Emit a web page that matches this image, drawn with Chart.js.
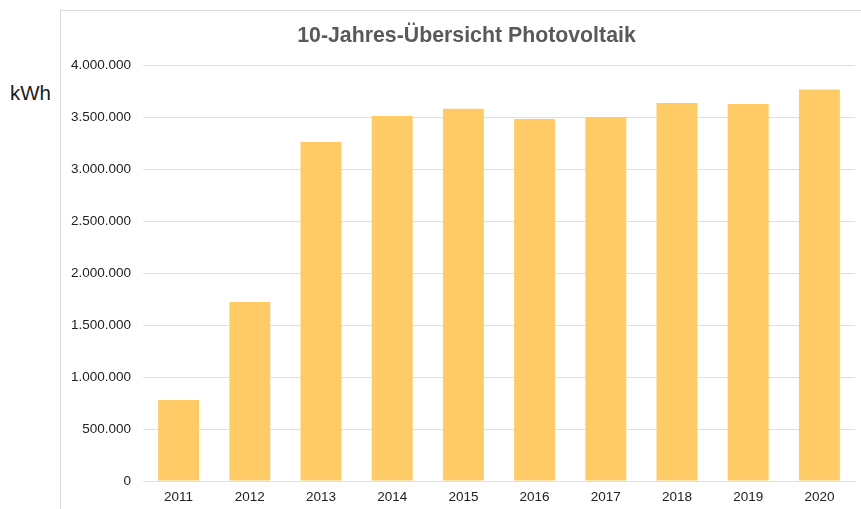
<!DOCTYPE html>
<html>
<head>
<meta charset="utf-8">
<script src="https://cdn.jsdelivr.net/npm/chart.js@4/dist/chart.umd.min.js"></script>
<style>
  html, body { margin: 0; padding: 0; background: #ffffff; }
  #wrap { position: relative; width: 861px; height: 509px; overflow: hidden; }
  #frame { position: absolute; left: 60px; top: 10px; width: 801px; height: 499px;
           border-left: 1px solid #d9d9d9; border-top: 1px solid #d9d9d9; box-sizing: border-box; }
  #unit { position: absolute; left: 10px; top: 81px; font-family: "Liberation Sans", Arial, sans-serif;
          font-size: 20.5px; color: #1a1a1a; line-height: 24px; }
  #title { position: absolute; left: 0; width: 933px; top: 22px; text-align: center;
           font-family: "Liberation Sans", Arial, sans-serif; font-weight: bold; font-size: 21.3px;
           line-height: 26px; color: #595959; white-space: nowrap; }
  canvas { position: absolute; left: 0; top: 0; }
</style>
</head>
<body>
<div id="wrap">
  <div id="frame"></div>
  <div id="unit">kWh</div>
  <canvas id="c" width="861" height="509"></canvas>
  <div id="title"></div>
</div>
<script>
const titleText = "10-Jahres-Übersicht Photovoltaik";
const years = ["2011","2012","2013","2014","2015","2016","2017","2018","2019","2020"];
const energyKWh = [778000, 1720000, 3260000, 3510000, 3580000, 3480000, 3500000, 3635000, 3625000, 3765000];
const yMax = 4000000;
const yStep = 500000;

document.getElementById('title').textContent = titleText;

function fmtDE(v) {
  return String(Math.round(v)).replace(/\B(?=(\d{3})+(?!\d))/g, ".");
}

const font = "'Liberation Sans', Arial, sans-serif";

new Chart(document.getElementById('c'), {
  type: 'bar',
  data: {
    labels: years,
    datasets: [{
      data: energyKWh,
      backgroundColor: '#FFCB66',
      borderWidth: 0,
      categoryPercentage: 1.0,
      barPercentage: 0.575
    }]
  },
  options: {
    responsive: false,
    animation: false,
    devicePixelRatio: 1,
    layout: { padding: { left: 69, right: 6, top: 65, bottom: 0 } },
    plugins: {
      legend: { display: false },
      tooltip: { enabled: false },
      title: { display: false }
    },
    scales: {
      x: {
        grid: { display: false, drawTicks: false },
        border: { display: true, color: '#e0e0e0', width: 1 },
        ticks: { color: '#222222', font: { family: font, size: 13.5 }, padding: 8.5, maxRotation: 0 },
        afterFit: s => { s.height = 28; }
      },
      y: {
        min: 0,
        max: yMax,
        grid: { color: '#e0e0e0', drawTicks: false, lineWidth: 1 },
        border: { display: false },
        ticks: {
          stepSize: yStep,
          color: '#222222',
          font: { family: font, size: 13.5 },
          padding: 12,
          callback: v => fmtDE(v)
        },
        afterFit: s => { s.width = 74; }
      }
    }
  }
});
</script>
</body>
</html>
